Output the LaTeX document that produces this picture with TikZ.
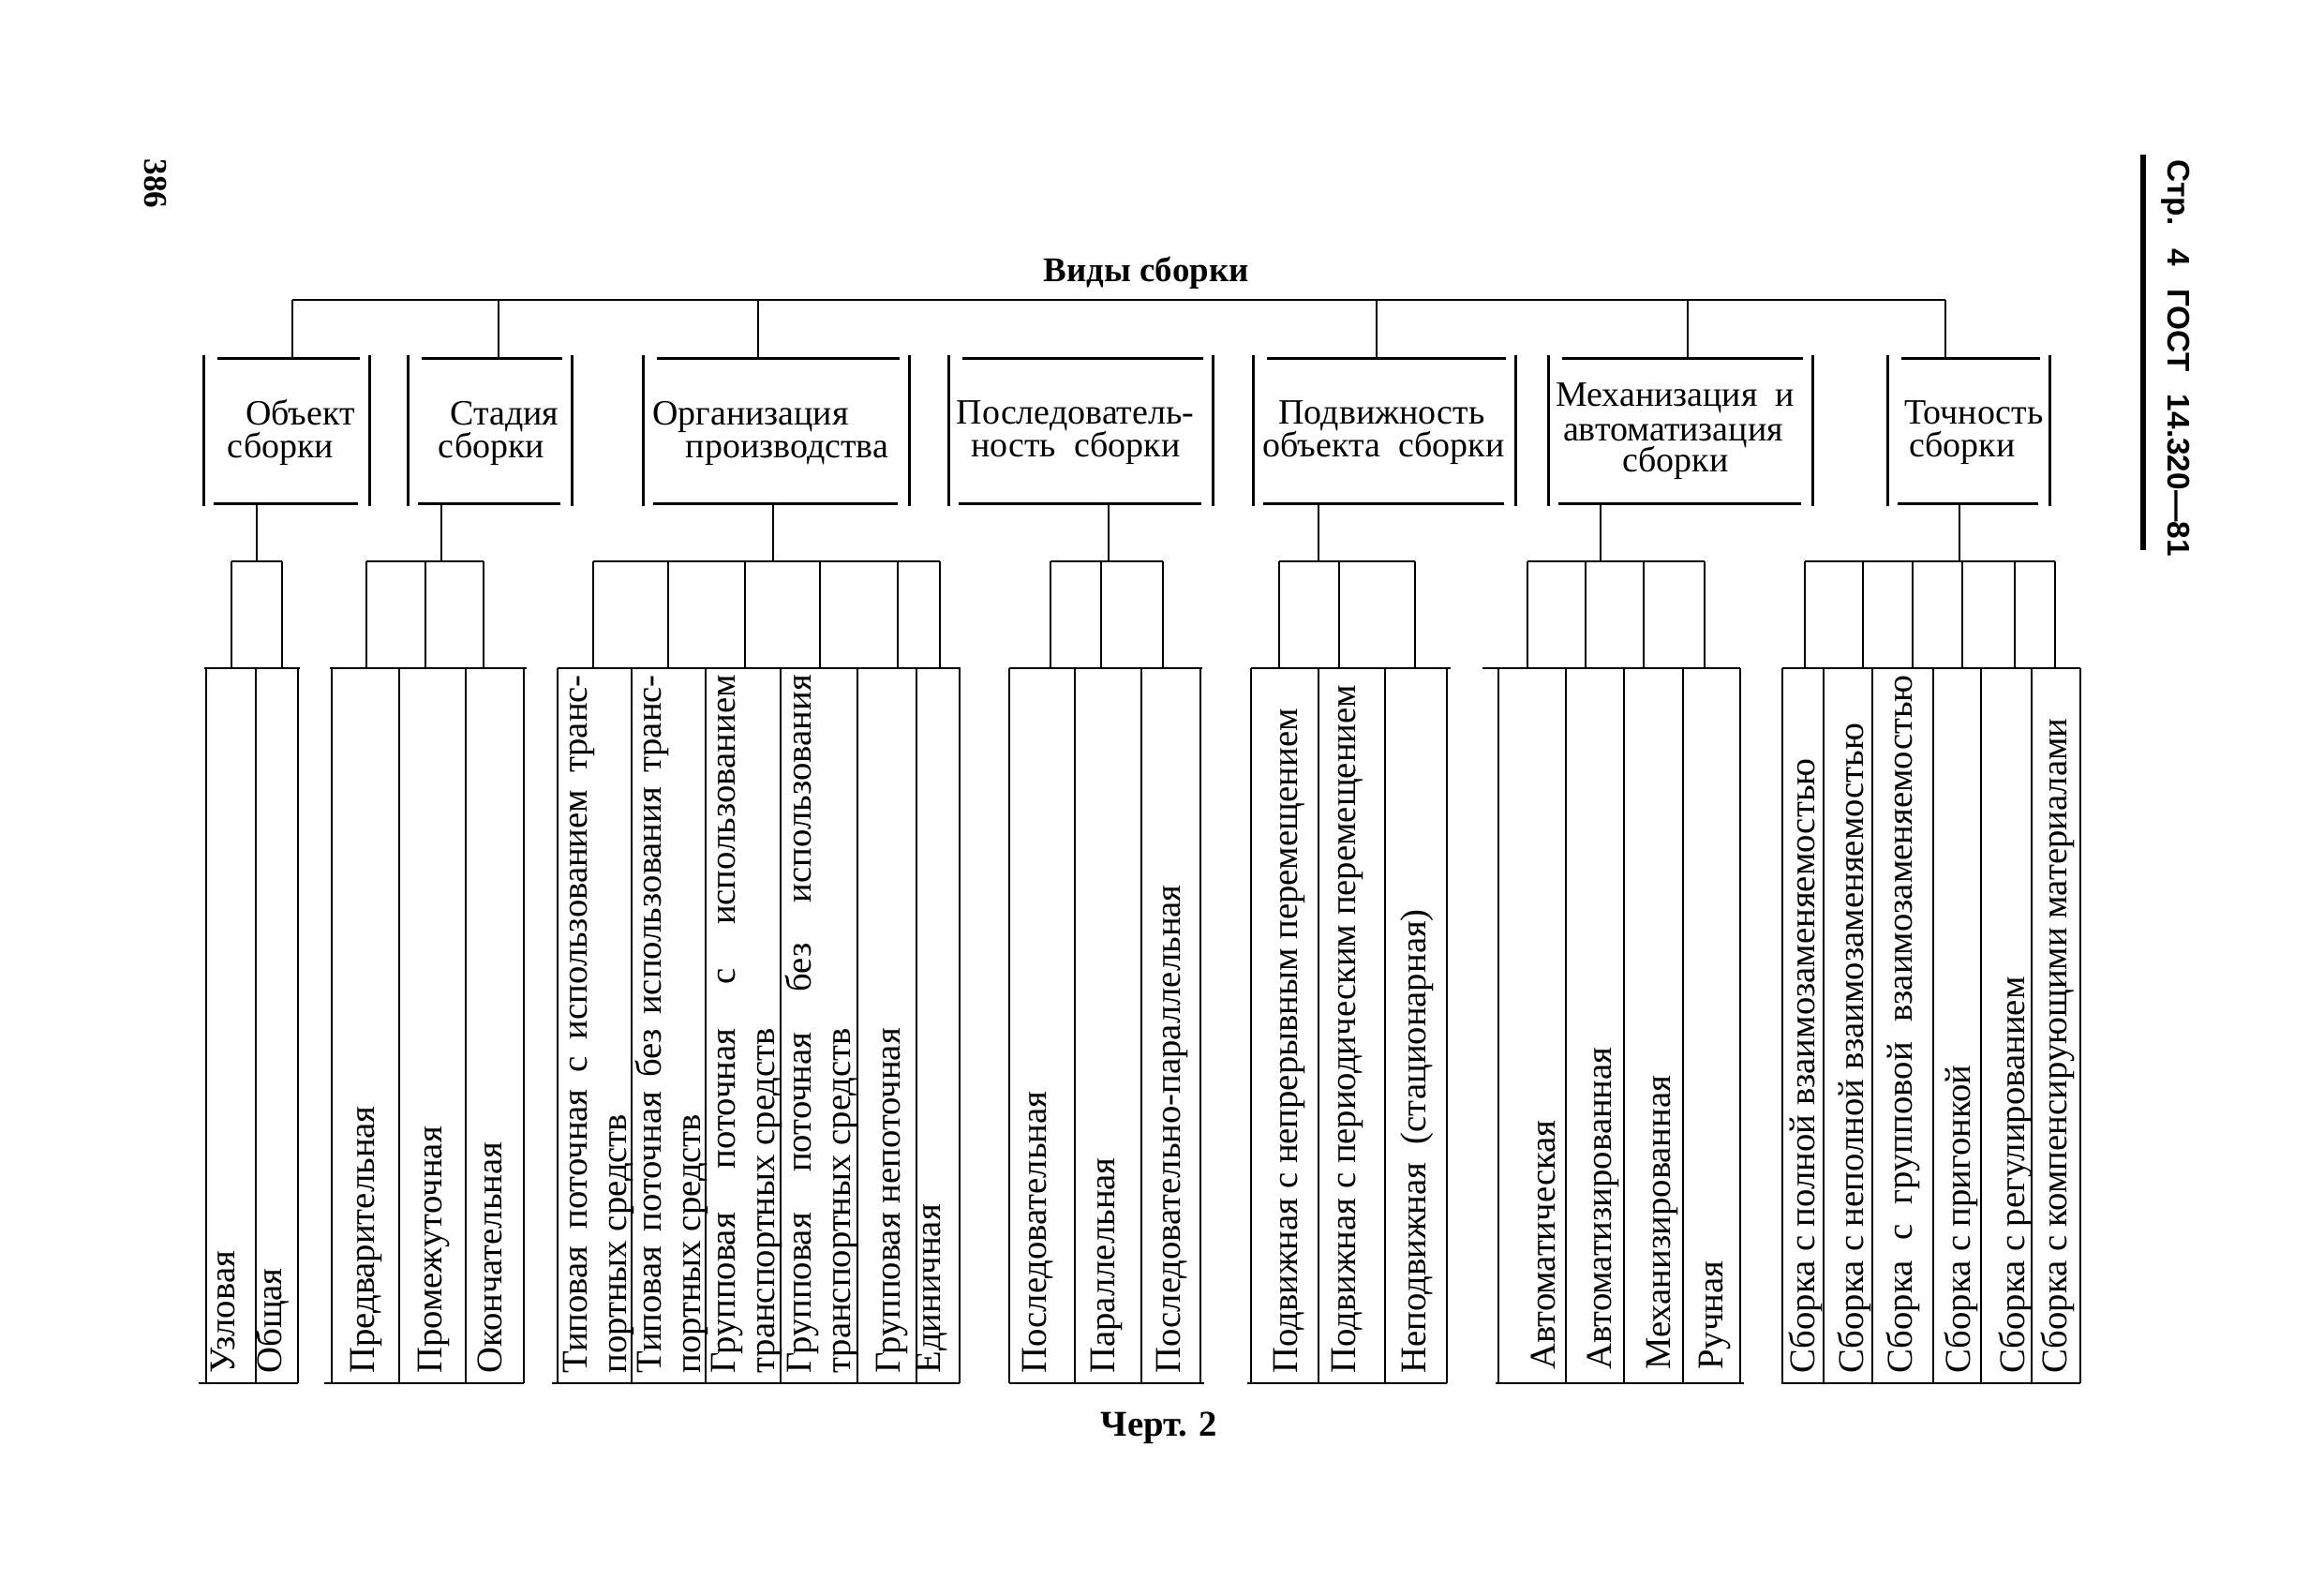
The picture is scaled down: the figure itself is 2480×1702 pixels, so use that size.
\documentclass[tikz,border=0pt]{standalone}
\usepackage{fontspec}
\setmainfont{Liberation Serif}
\newfontfamily\hdrfont{Liberation Sans}
\newcommand\gframe[1]{%
  \draw ([yshift=0.04cm]#1.north west) -- ([yshift=-0.03cm]#1.south west);
  \draw ([yshift=0.04cm]#1.north east) -- ([yshift=-0.03cm]#1.south east);
  \draw ([xshift=0.14cm]#1.north west) -- ([xshift=-0.1cm]#1.north east);
  \draw ([xshift=0.1cm]#1.south west) -- ([xshift=-0.12cm]#1.south east);}
\newcommand\twol[2]{\vbox{\hsize=7.45cm\hbox to 7.45cm{#1}\hbox{#2}}}
\begin{document}
\begin{tikzpicture}[x=0.01cm, y=-0.01cm, line width=0.8pt,
  btxt/.style={anchor=base, inner sep=0pt, font=\fontsize{10.8pt}{13pt}\selectfont},
  leaf/.style={rotate=90, anchor=west, inner sep=0pt, font=\fontsize{11pt}{12pt}\selectfont},
  gbox/.style={inner sep=0pt, minimum height=1.52cm}]
\fill[white] (0,0) rectangle (2480,1702);
\useasboundingbox (0,0) rectangle (2480,1702);

% page furniture
\node[rotate=-90, inner sep=0pt, font=\bfseries\fontsize{10pt}{12pt}\selectfont] (pg) at (166,196) {386};
\node[rotate=-90, anchor=west, inner sep=0pt, font=\hdrfont\bfseries\fontsize{9.5pt}{11pt}\selectfont] (hdr) at (2322,169)
  {\hbox to 4.23cm{Стр.\hfill 4\hfill ГОСТ\hfill 14.320—81}};
\coordinate (r0) at (2287,165); \coordinate (r1) at (2287,587);
\draw[line width=1.7pt] (r0) -- (r1);

\node[anchor=base, inner sep=0pt, font=\bfseries\fontsize{10.5pt}{12pt}\selectfont] (title) at (1223,300) {Виды сборки};
\node[anchor=base, inner sep=0pt, font=\bfseries\fontsize{11pt}{12pt}\selectfont] (cap) at (1237,1532) {Черт. 2};

% category boxes
\node[gbox, minimum width=1.74cm] (b1) at (306,460) {};
\node[gbox, minimum width=1.72cm] (b2) at (523,460) {};
\node[gbox, minimum width=2.81cm] (b3) at (828.5,460) {};
\node[gbox, minimum width=2.79cm] (b4) at (1153.5,460) {};
\node[gbox, minimum width=2.77cm] (b5) at (1477.5,460) {};
\node[gbox, minimum width=2.79cm] (b6) at (1793.5,460) {};
\node[gbox, minimum width=1.70cm] (b7) at (2101,460) {};
\foreach \b in {b1,b2,b3,b4,b5,b6,b7} {\gframe{\b}}

\node[btxt] (b1a) at (320.5,453) {Объект};
\node[btxt] (b1b) at (299.5,488) {сборки};
\node[btxt] (b2a) at (538.5,453) {Стадия};
\node[btxt] (b2b) at (524.5,488) {сборки};
\node[btxt] (b3a) at (801,453) {Организация};
\node[btxt] (b3b) at (840,488) {производства};
\node[btxt] (b4a) at (1147.5,452) {Последователь-};
\node[btxt] (b4b) at (1148,487) {ность\ \ сборки};
\node[btxt] (b5a) at (1474.5,452) {Подвижность};
\node[btxt] (b5b) at (1476.5,487) {объекта\ \ сборки};
\node[btxt] (b6a) at (1787.5,433) {Механизация\ \ и};
\node[btxt] (b6b) at (1785.5,470) {автоматизация};
\node[btxt] (b6c) at (1788,503) {сборки};
\node[btxt] (b7a) at (2106.5,452) {Точность};
\node[btxt] (b7b) at (2094,487) {сборки};

% top bus
\coordinate (tp0) at (312,320); \coordinate (tp1) at (2076,320);
\draw (tp0) -- (tp1);
\foreach \x/\b in {312/b1, 532/b2, 809/b3, 1469/b5, 1801/b6, 2076/b7} {
  \coordinate (v) at (\x,320);
  \draw (v) -- (v |- \b.north);
}

% groups: drop from box, bar, connectors, leaf frame
\foreach \b/\dx/\bl/\br/\cons/\tl/\tr/\ul/\ur/\lines in {
  b1/274/247/301/{247,301}/218/320/212/318/{220,273,318},
  b2/471/391/516/{391,454,516}/352/562/346/559/{354,426,497,559},
  b3/825/633/1003/{633,713,795,875,958,1003}/595/1025/589/1024/{595,674,753,833,915,978,1024},
  b4/1183/1121/1241/{1121,1175,1241}/1077/1283/1077/1285/{1077,1147,1218,1281},
  b5/1407/1365/1510/{1365,1429,1510}/1335/1548/1331/1544/{1335,1407,1478,1544},
  b6/1708/1630/1819/{1630,1692,1754,1819}/1582/1857/1596/1861/{1599,1671,1733,1796,1857},
  b7/2091/1926/2193/{1926,1988,2041,2094,2150,2193}/1902/2220/1901/2220/{1902,1946,1998,2063,2114,2168,2220}} {
  \coordinate (m) at (\dx,599);
  \draw (m |- \b.south) -- (m);
  \coordinate (ma) at (\bl,599); \coordinate (mb) at (\br,599);
  \draw (ma) -- (mb);
  \coordinate (ta) at (\tl,713); \coordinate (tb) at (\tr,713);
  \draw (ta) -- (tb);
  \coordinate (ua) at (\ul,1476); \coordinate (ub) at (\ur,1476);
  \draw (ua) -- (ub);
  \foreach \c in \cons {\coordinate (cc) at (\c,599); \draw (cc) -- (cc |- ta);}
  \foreach \l in \lines {\coordinate (ll) at (\l,713); \draw (ll) -- (ll |- ua);}
}

% leaves
\node[leaf] (l1a) at (238,1467) {Узловая};
\node[leaf] (l1b) at (291,1467) {Общая};

\node[leaf] (l2a) at (391,1467) {Предварительная};
\node[leaf] (l2b) at (463,1467) {Промежуточная};
\node[leaf] (l2c) at (523,1467) {Окончательная};

\node[leaf] (l3a) at (639,1467) {\twol{Типовая\hfill поточная\hfill с\hfill использованием\hfill транс-}{портных средств}};
\node[leaf] (l3b) at (717,1467) {\twol{Типовая\hfill поточная\hfill без\hfill использования\hfill транс-}{портных средств}};
\node[leaf] (l3c) at (797,1467) {\twol{Групповая\hfill поточная\hfill с\hfill использованием}{транспортных средств}};
\node[leaf] (l3d) at (877,1467) {\twol{Групповая\hfill поточная\hfill без\hfill использования}{транспортных средств}};
\node[leaf] (l3e) at (952,1467) {Групповая непоточная};
\node[leaf] (l3f) at (995,1467) {Единичная};

\node[leaf] (l4a) at (1107.5,1467) {Последовательная};
\node[leaf] (l4b) at (1180.5,1467) {Параллельная};
\node[leaf] (l4c) at (1250.5,1467) {Последовательно-параллельная};

\node[leaf] (l5a) at (1375.5,1467) {Подвижная с непрерывным перемещением};
\node[leaf] (l5b) at (1437.5,1467) {Подвижная с периодическим перемещением};
\node[leaf] (l5c) at (1512,1467) {Неподвижная\ \ (стационарная)};

\node[leaf] (l6a) at (1646.5,1463) {Автоматическая};
\node[leaf] (l6b) at (1711,1463) {Автоматизированная};
\node[leaf] (l6c) at (1773.5,1463) {Механизированная};
\node[leaf] (l6d) at (1829.5,1463) {Ручная};

\node[leaf] (l7a) at (1926.5,1467) {Сборка с полной взаимозаменяемостью};
\node[leaf] (l7b) at (1978.5,1467) {Сборка с неполной взаимозаменяемостью};
\node[leaf] (l7c) at (2031,1467) {\hbox to 7.45cm{Сборка\hfill с\hfill групповой\hfill взаимозаменяемостью}};
\node[leaf] (l7d) at (2092.5,1467) {Сборка с пригонкой};
\node[leaf] (l7e) at (2150.5,1467) {Сборка с регулированием};
\node[leaf] (l7f) at (2196,1467) {Сборка с компенсирующими материалами};
\end{tikzpicture}
\end{document}
